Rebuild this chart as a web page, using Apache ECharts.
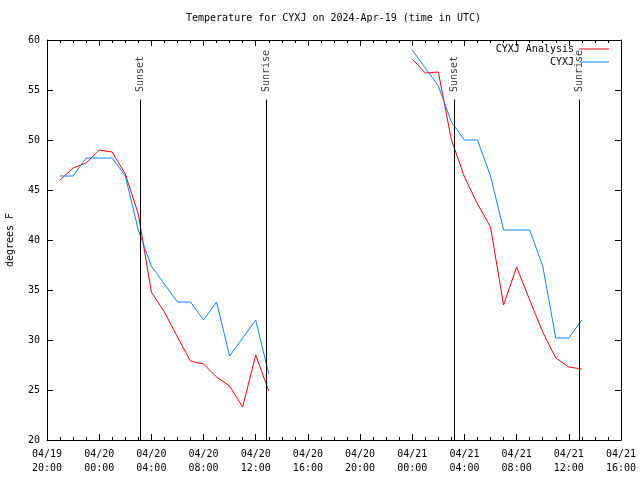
<!DOCTYPE html>
<html>
<head>
<meta charset="utf-8">
<script src="https://cdn.jsdelivr.net/npm/echarts@6/dist/echarts.min.js"></script>
<style>html,body{margin:0;padding:0;background:#fff;}#c{width:640px;height:480px;}</style>
</head>
<body>
<div id="c"></div>
<script>
// ---- data ----
var startTime = '2024-04-19T20:00:00Z';
var day1Times = ['2024-04-19T21:00Z','2024-04-19T22:00Z','2024-04-19T23:00Z','2024-04-20T00:00Z','2024-04-20T01:00Z','2024-04-20T02:00Z','2024-04-20T03:00Z','2024-04-20T04:00Z','2024-04-20T05:00Z','2024-04-20T06:00Z','2024-04-20T07:00Z','2024-04-20T08:00Z','2024-04-20T09:00Z','2024-04-20T10:00Z','2024-04-20T11:00Z','2024-04-20T12:00Z','2024-04-20T13:00Z'];
var day2Times = ['2024-04-21T00:00Z','2024-04-21T01:00Z','2024-04-21T02:00Z','2024-04-21T03:00Z','2024-04-21T04:00Z','2024-04-21T05:00Z','2024-04-21T06:00Z','2024-04-21T07:00Z','2024-04-21T08:00Z','2024-04-21T09:00Z','2024-04-21T10:00Z','2024-04-21T11:00Z','2024-04-21T12:00Z','2024-04-21T13:00Z'];
var analysisDay1 = [46.0,47.2,47.7,49.0,48.8,46.6,42.6,34.8,32.8,30.3,27.9,27.6,26.3,25.4,23.3,28.5,24.9];
var obsDay1      = [46.4,46.4,48.2,48.2,48.2,46.4,41.0,37.4,35.6,33.8,33.8,32.0,33.8,28.4,30.2,32.0,26.6];
var analysisDay2 = [58.1,56.7,56.8,50.0,46.3,43.6,41.3,33.5,37.3,34.0,30.8,28.2,27.3,27.1];
var obsDay2      = [59.0,57.2,55.4,51.8,50.0,50.0,46.4,41.0,41.0,41.0,37.4,30.2,30.2,32.0];
var sunEventTimes = ['2024-04-20T03:10Z','2024-04-20T12:50Z','2024-04-21T03:12Z','2024-04-21T12:47Z'];
var sunEventNames = ['Sunset','Sunrise','Sunset','Sunrise'];
var yTicks = [20,25,30,35,40,45,50,55,60];
var seriesNames = ['CYXJ Analysis','CYXJ'];
var titleText = 'Temperature for CYXJ on 2024-Apr-19 (time in UTC)';

// ---- helpers ----
var t0 = Date.parse(startTime);
function hrs(s){ return (Date.parse(s) - t0) / 3600000; }
function pairs(times, vals){ return times.map(function(t,i){ return [hrs(t), vals[i]]; }); }
function joinGap(a, b){ return a.concat([[ (a[a.length-1][0]+b[0][0])/2, null ]]).concat(b); }
function pad(n){ return (n<10?'0':'')+n; }
function fmtX(v){
  var d = new Date(t0 + v*3600000);
  return pad(d.getUTCMonth()+1)+'/'+pad(d.getUTCDate())+'\n'+pad(d.getUTCHours())+':'+pad(d.getUTCMinutes());
}
var FONT = 'DejaVu Sans Mono';
var redData = joinGap(pairs(day1Times, analysisDay1), pairs(day2Times, analysisDay2));
var blueData = joinGap(pairs(day1Times, obsDay1), pairs(day2Times, obsDay2));
var sunLines = sunEventTimes.map(function(t){ return [{coord:[hrs(t),20]},{coord:[hrs(t),54.05]}]; });
var sunLabels = sunEventTimes.map(function(t,i){ return [hrs(t), 54.8, sunEventNames[i]]; });

var axisCommon = {
  type:'value', min:0, max:44, interval:4,
  axisLine:{show:true, onZero:false, lineStyle:{color:'#000', width:1}},
  axisTick:{show:true, inside:true, length:6, lineStyle:{color:'#000'}},
  minorTick:{show:true, splitNumber:4, length:3, lineStyle:{color:'#000'}},
  splitLine:{show:false}, minorSplitLine:{show:false}
};
var yCommon = {
  type:'value', min:yTicks[0], max:yTicks[yTicks.length-1], interval:5,
  axisLine:{show:true, onZero:false, lineStyle:{color:'#000', width:1}},
  axisTick:{show:true, inside:true, length:6, lineStyle:{color:'#000'}},
  splitLine:{show:false}
};

var chart = echarts.init(document.getElementById('c'), null, {renderer:'canvas'});
chart.setOption({
  animation:false,
  backgroundColor:'#fff',
  textStyle:{fontFamily:FONT},
  title:{text:titleText, left:186, top:13, padding:0,
    textStyle:{fontFamily:FONT, fontSize:10, fontWeight:'normal', color:'#000'}},
  legend:{
    data:seriesNames, orient:'vertical', right:26, top:38, align:'right',
    icon:'rect', itemWidth:30, itemHeight:1, itemGap:1,
    textStyle:{fontFamily:FONT, fontSize:10, color:'#000', lineHeight:12}
  },
  grid:{left:47, right:19, top:40, bottom:40, containLabel:false, outerBoundsMode:'none'},
  xAxis:[
    Object.assign({}, axisCommon, {position:'bottom',
      axisLabel:{show:true, formatter:fmtX, fontFamily:FONT, fontSize:10, color:'#000', lineHeight:14, margin:7}}),
    Object.assign({}, axisCommon, {position:'top', axisLabel:{show:false}})
  ],
  yAxis:[
    Object.assign({}, yCommon, {position:'left',
      axisLabel:{show:true, fontFamily:FONT, fontSize:10, color:'#000', margin:7},
      name:'degrees F', nameLocation:'middle', nameGap:32, nameRotate:90,
      nameTextStyle:{fontFamily:FONT, fontSize:10, color:'#000'}}),
    Object.assign({}, yCommon, {position:'right', axisLabel:{show:false}})
  ],
  series:[
    {name:seriesNames[0], type:'line', data:redData, showSymbol:false, connectNulls:false,
      lineStyle:{color:'#ff0000', width:1}, itemStyle:{color:'#ff0000'}, z:3},
    {name:seriesNames[1], type:'line', data:blueData, showSymbol:false, connectNulls:false,
      lineStyle:{color:'#0a84ff', width:1}, itemStyle:{color:'#0a84ff'}, z:4},
    {name:'sun', type:'scatter', data:sunLabels, symbolSize:0, silent:true, z:5,
      label:{show:true, position:[0,0], rotate:90, align:'left', verticalAlign:'middle',
        formatter:function(p){return p.value[2];}, fontFamily:FONT, fontSize:10, color:'#000'},
      markLine:{silent:true, symbol:['none','none'], label:{show:false},
        lineStyle:{color:'#000', width:1, type:'solid'}, data:sunLines}}
  ]
});
</script>
</body>
</html>
